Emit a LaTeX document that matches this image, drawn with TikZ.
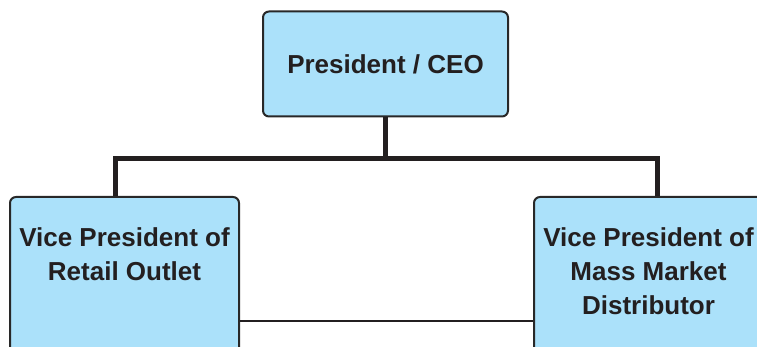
\documentclass[tikz,border=0pt]{standalone}
\usepackage{fontspec}
\setmainfont{Liberation Sans}
\definecolor{boxfill}{RGB}{171,225,250}
\definecolor{boxline}{RGB}{40,40,40}
\definecolor{ink}{RGB}{35,31,32}
\begin{document}
\begin{tikzpicture}[x=1pt,y=1pt,
  orgbox/.style={draw=boxline, line width=2pt, fill=boxfill, rounded corners=6pt,
    inner sep=0pt, text=ink, font=\bfseries\fontsize{26}{34}\selectfont},
  conn/.style={draw=ink, line width=5pt, line join=miter},
  link/.style={draw=ink, line width=2.5pt}]
\useasboundingbox (0,0) rectangle (757,347);
\clip (0,0) rectangle (757,347);
% president box
\node[orgbox, minimum width=245pt, minimum height=105pt] (ceo) at (385.5,283)
  {President / CEO};
% vice presidents (boxes run past the lower edge)
\node[orgbox, anchor=north west] (vpr) at (9,151)
  {\parbox[c][250pt][t]{229pt}{\centering\vspace*{31pt}Vice President of\\Retail Outlet}};
\node[orgbox, anchor=north west] (vpm) at (533,151)
  {\parbox[c][250pt][t]{229pt}{\centering\vspace*{31pt}Vice President of\\Mass Market\\Distributor}};
% reporting lines
\draw[conn] (ceo.south) -- ++(0,-41) coordinate (bus);
\draw[conn] ([xshift=-9.5pt]vpr.north) |- (bus) -| ([xshift=8.5pt]vpm.north);
% lateral link between the vice presidents
\path (vpr.north east) ++(0,-125) coordinate (lk);
\draw[link] (lk) -- (lk -| vpm.west);
\end{tikzpicture}
\end{document}
